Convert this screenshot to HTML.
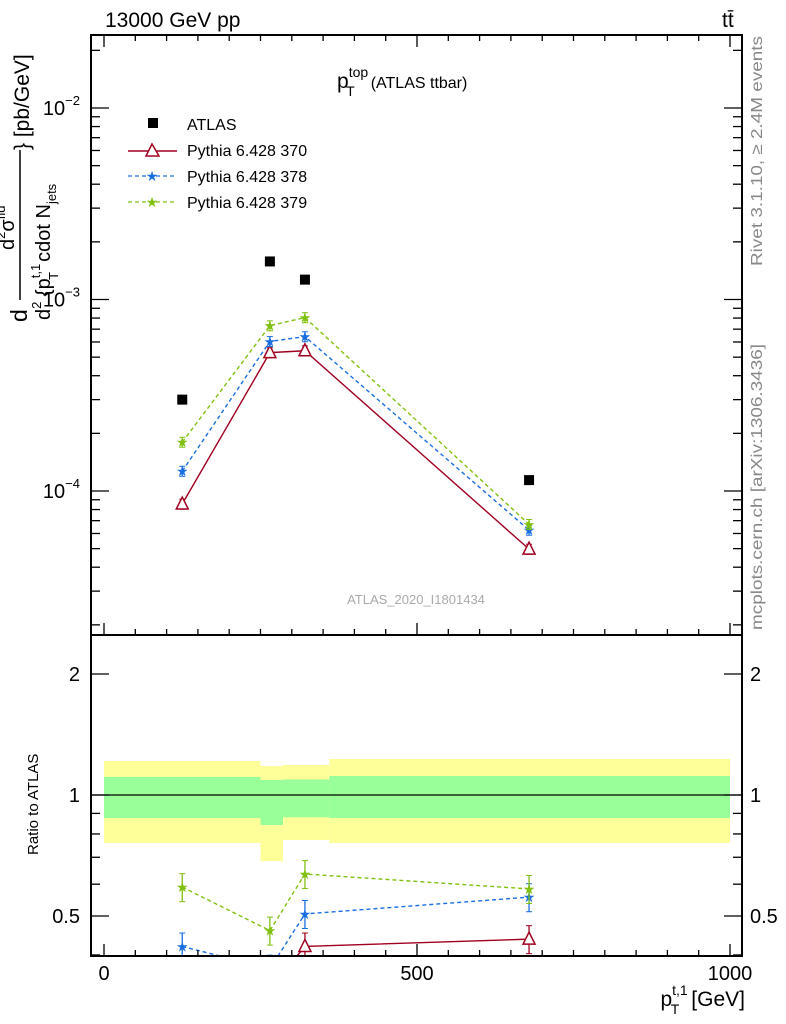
<!DOCTYPE html>
<html><head><meta charset="utf-8"><style>
body{margin:0;background:#fff;}
svg{display:block;font-family:"Liberation Sans",sans-serif;}
</style></head><body>
<svg id="c" width="786" height="1024" xmlns="http://www.w3.org/2000/svg">
<text x="105" y="27" font-size="21">13000 GeV pp</text>
<text x="722" y="27" font-size="21">tt̄</text>
<text x="337" y="88" font-size="21">p<tspan font-size="14" dy="-11">top</tspan><tspan font-size="14" dx="-22" dy="19">T</tspan><tspan font-size="16" dx="16" dy="-8">(ATLAS ttbar)</tspan></text>
<text x="416" y="604" font-size="13" fill="#aaa" text-anchor="middle">ATLAS_2020_I1801434</text>
<text transform="translate(762,266) rotate(-90)" font-size="16" fill="#888" textLength="230" lengthAdjust="spacingAndGlyphs">Rivet 3.1.10, ≥ 2.4M events</text>
<text transform="translate(762,630) rotate(-90)" font-size="16" fill="#888" textLength="286" lengthAdjust="spacingAndGlyphs">mcplots.cern.ch [arXiv:1306.3436]</text>
<g>
<text transform="translate(27,322) rotate(-90)" font-size="23">d</text>
<line x1="20" y1="150" x2="20" y2="300" stroke="#000" stroke-width="1.5"/>
<text transform="translate(29,150) rotate(-90)" font-size="21">} [pb/GeV]</text>
<text transform="translate(14,250) rotate(-90)" font-size="20">d<tspan font-size="13" dy="-9">2</tspan><tspan dy="9">σ</tspan><tspan font-size="13" dy="-9">fid</tspan></text>
<text transform="translate(50,320) rotate(-90)" font-size="20">d<tspan font-size="13" dy="-9">2</tspan><tspan dy="9"> {p</tspan><tspan font-size="13" dy="-10">t,1</tspan><tspan font-size="13" dx="-16" dy="18">T</tspan><tspan dx="10" dy="-8">cdot N</tspan><tspan font-size="13" dy="6">jets</tspan></text>
</g>
<text transform="translate(38,855) rotate(-90)" font-size="15">Ratio to ATLAS</text>
<text x="745" y="1006" font-size="21" text-anchor="end">p<tspan font-size="14" dy="-11">t,1</tspan><tspan font-size="14" dx="-17" dy="19">T</tspan><tspan dx="12" dy="-8">[GeV]</tspan></text>
<g>
<rect x="148" y="118" width="10" height="10" fill="#000"/>
<text x="187" y="130" font-size="16">ATLAS</text>
<line x1="128" y1="151" x2="177" y2="151" stroke="#a00020" stroke-width="1.5"/>
<polygon points="152,144 146,156 159,156" fill="#fff" stroke="#a00020" stroke-width="1.5"/>
<text x="187" y="156" font-size="16">Pythia 6.428 370</text>
<line x1="128" y1="176" x2="177" y2="176" stroke="#1a6fe0" stroke-width="1.3" stroke-dasharray="4,3"/>
<text x="152" y="181" font-size="14" fill="#1a6fe0" text-anchor="middle">★</text>
<text x="187" y="182" font-size="16">Pythia 6.428 378</text>
<line x1="128" y1="202" x2="177" y2="202" stroke="#80c010" stroke-width="1.3" stroke-dasharray="4,3"/>
<text x="152" y="207" font-size="14" fill="#80c010" text-anchor="middle">★</text>
<text x="187" y="208" font-size="16">Pythia 6.428 379</text>
</g>
<g id="g"></g>
</svg>
<script>
const xBins=[0,250,286,360,1000];
const yellowHi=[1.215,1.18,1.188,1.229];
const yellowLo=[0.76,0.685,0.773,0.76];
const greenHi=[1.109,1.09,1.093,1.115];
const greenLo=[0.876,0.842,0.88,0.876];
const xPts=[125,265,321,679];
const atlas=[3.0e-4,1.58e-3,1.27e-3,1.14e-4];
const mc370=[8.55e-5,5.28e-4,5.4e-4,4.97e-5];
const mc378=[1.27e-4,6.04e-4,6.4e-4,6.25e-5];
const mc379=[1.8e-4,7.3e-4,8.05e-4,6.7e-5];
const r370=[0.28,0.33,0.42,0.438];
const r378=[0.42,0.37,0.506,0.557];
const r379=[0.59,0.46,0.636,0.584];
const xTicks=[0,500,1000];
const yTicks=[-4,-3,-2];
const rTicks=[0.5,1,2];

const NS="http://www.w3.org/2000/svg";
const g=document.getElementById('g');
const L=91,R=742,T=35,M=635,B=956;
const X=v=>104+v*0.626;
const Y=v=>491-(Math.log10(v)+4)*191.5;
const RY=v=>795-Math.log10(v)*402;
function mk(t,a,p){const e=document.createElementNS(NS,t);for(const k in a)e.setAttribute(k,a[k]);(p||g).appendChild(e);return e;}
const defs=mk('defs',{});
const c1=mk('clipPath',{id:'cm'},defs);mk('rect',{x:L,y:T,width:R-L,height:M-T},c1);
const c2=mk('clipPath',{id:'cr'},defs);mk('rect',{x:L,y:M,width:R-L,height:B-M},c2);
const gm=mk('g',{'clip-path':'url(#cm)'});
const gr=mk('g',{'clip-path':'url(#cr)'});
for(let i=0;i<4;i++){
 let e=mk('rect',{x:X(xBins[i]),y:RY(yellowHi[i]),width:X(xBins[i+1])-X(xBins[i]),height:RY(yellowLo[i])-RY(yellowHi[i]),fill:'#ffff99'},gr);
 
 
}
for(let i=0;i<4;i++){
 let e=mk('rect',{x:X(xBins[i]),y:RY(greenHi[i]),width:X(xBins[i+1])-X(xBins[i]),height:RY(greenLo[i])-RY(greenHi[i]),fill:'#99ff99'},gr);
 
 
}
mk('line',{x1:L,x2:R,y1:RY(1),y2:RY(1),stroke:'#000','stroke-width':1.2},gr);
function series(vals,fy,parent,col,dash,marker,name,err,noLine){
 if(!noLine){
 const pts=vals.map((v,i)=>X(xPts[i])+','+fy(v)).join(' ');
 let pl=mk('polyline',{points:pts,fill:'none',stroke:col,'stroke-width':1.4,'stroke-dasharray':dash},parent);
 
 
 }
 vals.forEach((v,i)=>{
  const x=X(xPts[i]),y=fy(v);
  if(err>0){
  mk('line',{x1:x,x2:x,y1:fy(v*(1+err)),y2:fy(v*(1-err)),stroke:col,'stroke-width':1.3},parent);
  mk('line',{x1:x-3,x2:x+3,y1:fy(v*(1+err)),y2:fy(v*(1+err)),stroke:col},parent);
  mk('line',{x1:x-3,x2:x+3,y1:fy(v*(1-err)),y2:fy(v*(1-err)),stroke:col},parent);
  }
  let m;
  if(marker==='tri') m=mk('polygon',{points:`${x},${y-7} ${x-6},${y+5} ${x+6},${y+5}`,fill:'#fff',stroke:col,'stroke-width':1.5},parent);
  else if(marker==='sq') m=mk('rect',{x:x-5,y:y-5,width:10,height:10,fill:'#000'},parent);
  else {m=mk('text',{x:x,y:y+5,'font-size':14,fill:col,'text-anchor':'middle'},parent);m.textContent='★';}
  
  
 });
}
series(mc370,Y,gm,'#a00020','','tri','mc370',0.06);
series(mc378,Y,gm,'#1a6fe0','4,3','star','mc378',0.06);
series(mc379,Y,gm,'#80c010','4,3','star','mc379',0.06);
series(atlas,Y,gm,'#000','','sq','atlas',0,true);
series(r370,RY,gr,'#a00020','','tri','ratio370',0.08);
series(r378,RY,gr,'#1a6fe0','4,3','star','ratio378',0.08);
series(r379,RY,gr,'#80c010','4,3','star','ratio379',0.08);
let f=mk('rect',{x:L,y:T,width:R-L,height:M-T,fill:'none',stroke:'#000','stroke-width':2});

f=mk('rect',{x:L,y:M,width:R-L,height:B-M,fill:'none',stroke:'#000','stroke-width':2});

for(let v=0;v<=1000;v+=50){
 const x=X(v),len=v%500===0?12:6;
 for(const [y0,d] of [[M,-1],[T,1],[B,-1]]) mk('line',{x1:x,x2:x,y1:y0,y2:y0+d*len,stroke:'#000','stroke-width':1.3});
}
xTicks.forEach(v=>{const t=mk('text',{x:X(v),y:980,'font-size':20,'text-anchor':'middle'});t.textContent=v;
 });
for(let d=-5;d<=-2;d++)for(let k=1;k<10;k++){
 const v=k*Math.pow(10,d),y=Y(v);if(y<T||y>M)continue;
 const len=k===1?18:9;
 mk('line',{x1:L,x2:L+len,y1:y,y2:y,stroke:'#000','stroke-width':1.3});
 mk('line',{x1:R,x2:R-len,y1:y,y2:y,stroke:'#000','stroke-width':1.3});
}
yTicks.forEach(d=>{const t=mk('text',{x:80,y:Y(Math.pow(10,d))+7,'font-size':20,'text-anchor':'end'});
 t.innerHTML='10<tspan font-size="13" dy="-10">−'+(-d)+'</tspan>';
 });
[0.4,0.5,0.6,0.7,0.8,0.9,1,2].forEach(v=>{const y=RY(v);if(y>B)return;
 const len=(v===0.5||v===1||v===2)?18:9;
 mk('line',{x1:L,x2:L+len,y1:y,y2:y,stroke:'#000','stroke-width':1.3});
 mk('line',{x1:R,x2:R-len,y1:y,y2:y,stroke:'#000','stroke-width':1.3});});
rTicks.forEach(v=>{
 let t=mk('text',{x:80,y:RY(v)+7,'font-size':20,'text-anchor':'end'});t.textContent=v;
 
 t=mk('text',{x:750,y:RY(v)+7,'font-size':20});t.textContent=v;
 
});
</script>
</body></html>
